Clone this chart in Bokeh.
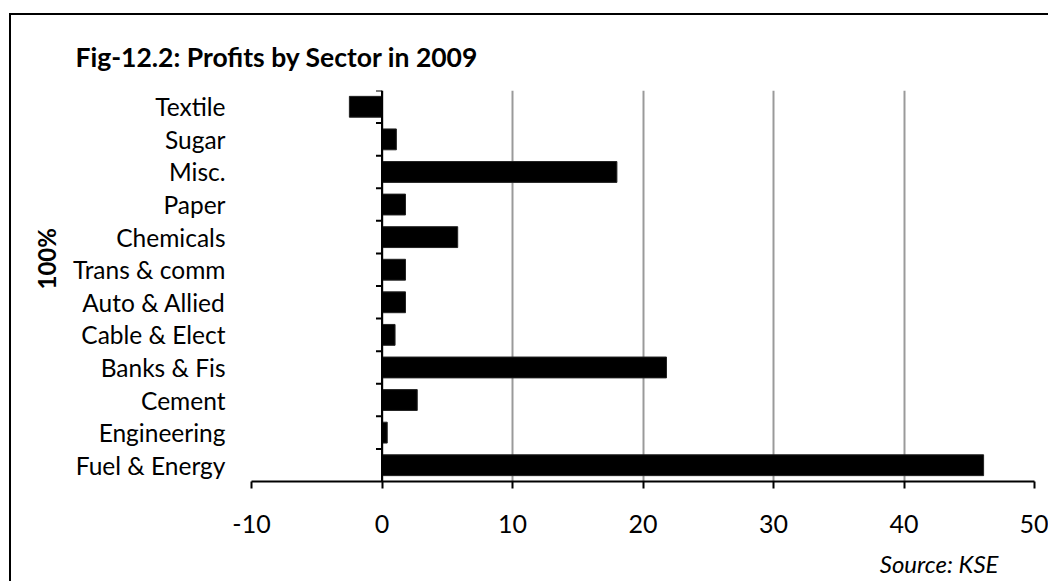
from bokeh.plotting import figure
from bokeh.models import (FactorRange, Range1d, FixedTicker, Span, Title, ColumnDataSource)
from bokeh.embed import file_html
from bokeh.resources import INLINE

# ---- data (top-to-bottom order as in the chart) ----
sectors = ["Textile", "Sugar", "Misc.", "Paper", "Chemicals", "Trans & comm",
           "Auto & Allied", "Cable & Elect", "Banks & Fis", "Cement",
           "Engineering", "Fuel & Energy"]
profits = [-2.5, 1.1, 18.0, 1.8, 5.8, 1.8, 1.8, 1.0, 21.8, 2.7, 0.4, 46.1]
x_ticks = [-10, 0, 10, 20, 30, 40, 50]

title_text = "Fig-12.2: Profits by Sector in 2009"
ylabel_text = "100%"
source_text = "Source: KSE"

FONT = "Lato"

factors = list(reversed(sectors))  # bottom-to-top for the y range

p = figure(width=1039, height=586, output_backend="svg", toolbar_location=None,
           y_range=FactorRange(factors=factors, range_padding=0),
           x_range=Range1d(x_ticks[0], x_ticks[-1]),
           min_border_left=240, min_border_right=16, min_border_top=75,
           min_border_bottom=120, title=None)
p.styles = {"margin-left": "9px", "margin-top": "13px", "margin-bottom": "-20px",
            "border-left": "2px solid black", "border-top": "2px solid black"}
p.outline_line_color = None
p.background_fill_color = "white"
p.border_fill_color = "white"

src = ColumnDataSource(dict(sector=sectors, profit=profits))
p.hbar(y="sector", left=0, right="profit", height=0.64, source=src,
       fill_color="black", line_color="#222222", line_width=1)

p.add_layout(Span(location=0, dimension="height", line_color="black", line_width=2))

bounds = list(range(1, len(sectors) + 1))
p.segment(x0=[-0.46] * len(bounds), x1=[0] * len(bounds), y0=bounds, y1=bounds,
          line_color="black", line_width=2)

xa = p.xaxis[0]
xa.ticker = FixedTicker(ticks=x_ticks)
xa.major_label_overrides = {t: str(t) for t in x_ticks}
xa.axis_line_color = "black"
xa.axis_line_width = 2
xa.major_tick_line_color = "black"
xa.major_tick_line_width = 2
xa.major_tick_out = 7
xa.major_tick_in = 0
xa.minor_tick_line_color = None
xa.major_label_text_font = FONT
xa.major_label_text_font_size = "25px"
xa.major_label_text_color = "black"
xa.major_label_standoff = 26

ya = p.yaxis[0]
ya.axis_line_color = None
ya.major_tick_line_color = None
ya.minor_tick_line_color = None
ya.major_tick_out = 0
ya.major_tick_in = 0
ya.major_label_standoff = 26
ya.major_label_text_font = FONT
ya.major_label_text_font_size = "24.5px"
ya.major_label_text_color = "black"

p.xgrid.grid_line_color = "#9a9a9a"
p.xgrid.grid_line_width = 2
p.xgrid.ticker = FixedTicker(ticks=x_ticks)
p.ygrid.grid_line_color = None

p.add_layout(Title(text=title_text, align="left", offset=-176, standoff=36,
                   text_font=FONT, text_font_style="bold", text_font_size="26.5px",
                   text_color="black"), "above")
p.add_layout(Title(text=ylabel_text, align="left", offset=192, standoff=17,
                   text_font=FONT, text_font_style="bold", text_font_size="24px",
                   text_color="black"), "left")
p.add_layout(Title(text=source_text, align="right", offset=36, standoff=23,
                   text_font=FONT, text_font_style="italic", text_font_size="24px",
                   text_color="black"), "below")

open("out.html", "w").write(file_html(p, INLINE))
